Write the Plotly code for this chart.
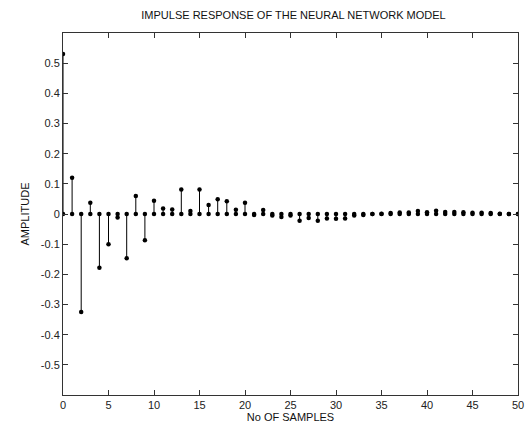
import plotly.graph_objects as go

# Impulse response samples n = 0..50
samples = list(range(51))
amplitude = [
    0.53, 0.12, -0.325, 0.037, -0.178, -0.10, -0.012, -0.147, 0.06, -0.087,
    0.044, 0.018, 0.015, 0.081, 0.01, 0.081, 0.03, 0.049, 0.042, 0.014,
    0.037, -0.003, 0.013, -0.005, -0.01, -0.005, -0.022, -0.013, -0.022, -0.015,
    -0.016, -0.015, -0.005, -0.003, 0.0, 0.001, 0.003, 0.005, 0.005, 0.01,
    0.006, 0.011, 0.007, 0.007, 0.006, 0.004, 0.004, 0.003, 0.001, 0.0,
    0.0,
]
x_ticks = list(range(0, 51, 5))
y_ticks = [round(-0.5 + 0.1 * i, 1) for i in range(11)]

title_text = "IMPULSE RESPONSE OF THE NEURAL NETWORK MODEL"
x_title = "No OF SAMPLES"
y_title = "AMPLITUDE"

# stem segments from the zero baseline up/down to each sample
stem_x, stem_y = [], []
for n, v in zip(samples, amplitude):
    stem_x += [n, n, None]
    stem_y += [0, v, None]

font = "Liberation Sans, Arial, sans-serif"
fig = go.Figure()
fig.add_trace(go.Scatter(x=stem_x, y=stem_y, mode="lines",
                         line=dict(color="black", width=1), hoverinfo="skip"))
fig.add_trace(go.Scatter(x=samples, y=[0] * len(samples), mode="markers",
                         marker=dict(color="black", size=4.5)))
fig.add_trace(go.Scatter(x=samples, y=amplitude, mode="markers",
                         marker=dict(color="black", size=4.5)))

axis_common = dict(showline=True, linecolor="#333333", linewidth=1, mirror="allticks",
                   ticks="inside", ticklen=5, tickcolor="#333333", showgrid=False,
                   zeroline=False, tickfont=dict(family=font, size=11, color="#222222"))

fig.update_layout(
    width=532, height=432,
    margin=dict(l=63, r=8, t=33, b=37),
    paper_bgcolor="white", plot_bgcolor="white",
    showlegend=False,
    title=dict(text=title_text, x=293.5 / 532, xanchor="center", y=1 - 15 / 432,
               yanchor="middle", font=dict(family=font, size=11, color="#111111")),
    xaxis=dict(range=[0, 50], tickvals=x_ticks,
               title=dict(text=x_title, standoff=2,
                          font=dict(family=font, size=11, color="#111111")),
               **axis_common),
    yaxis=dict(range=[-0.6, 0.6], tickvals=y_ticks,
               ticktext=[("0" if t == 0 else f"{t:.1f}") for t in y_ticks],
               title=dict(text=y_title, standoff=8,
                          font=dict(family=font, size=11, color="#111111")),
               **axis_common),
)

fig.write_html("out.html")
